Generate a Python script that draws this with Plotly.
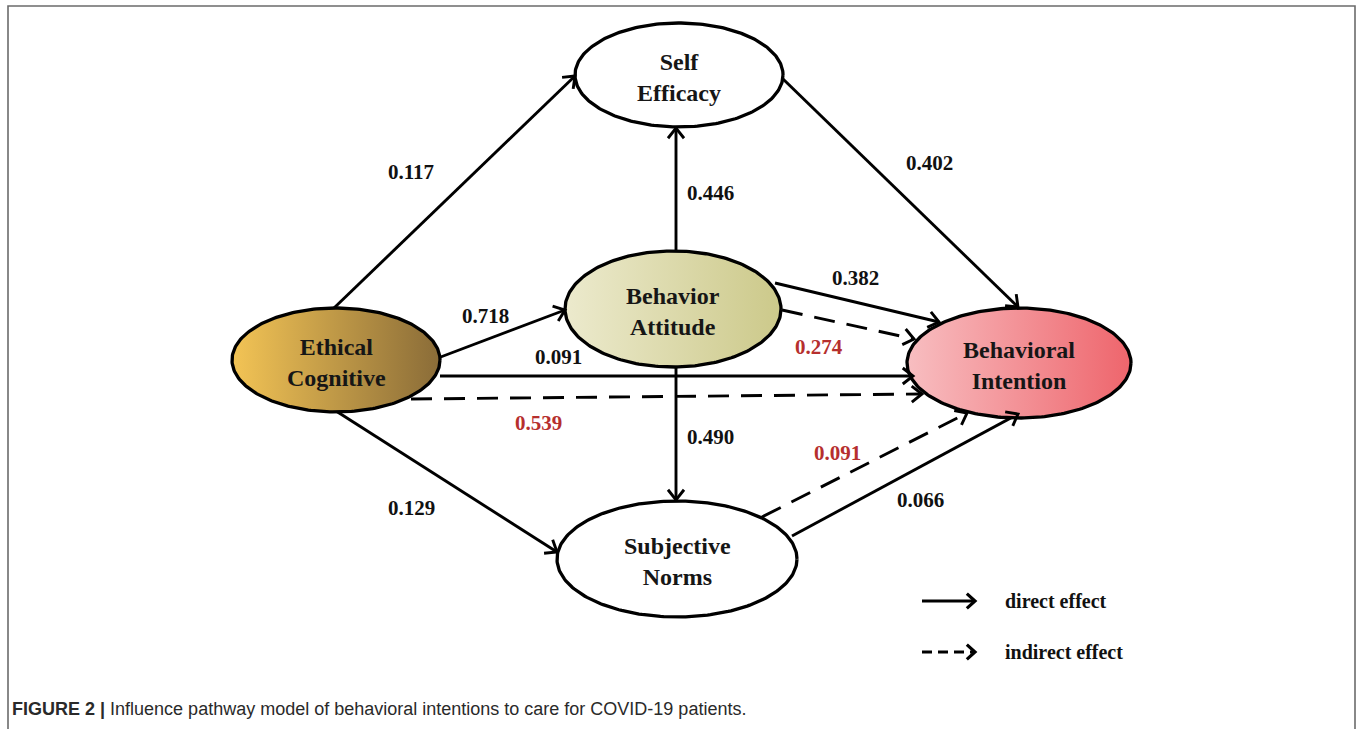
import numpy as np
import plotly.graph_objects as go

# ------------------------------------------------------------------ data
node_names = ["Ethical Cognitive", "Self Efficacy", "Behavior Attitude",
              "Subjective Norms", "Behavioral Intention"]
node_lines = [["Ethical", "Cognitive"], ["Self", "Efficacy"], ["Behavior", "Attitude"],
              ["Subjective", "Norms"], ["Behavioral", "Intention"]]

edge_source = ["Ethical Cognitive", "Ethical Cognitive", "Ethical Cognitive", "Ethical Cognitive",
               "Ethical Cognitive", "Behavior Attitude", "Behavior Attitude", "Behavior Attitude",
               "Behavior Attitude", "Self Efficacy", "Subjective Norms", "Subjective Norms"]
edge_target = ["Self Efficacy", "Behavior Attitude", "Behavioral Intention", "Behavioral Intention",
               "Subjective Norms", "Self Efficacy", "Subjective Norms", "Behavioral Intention",
               "Behavioral Intention", "Behavioral Intention", "Behavioral Intention",
               "Behavioral Intention"]
edge_coef = [0.117, 0.718, 0.091, 0.539, 0.129, 0.446, 0.490, 0.382, 0.274, 0.402, 0.091, 0.066]
edge_kind = ["direct", "direct", "direct", "indirect", "direct", "direct", "direct", "direct",
             "indirect", "direct", "indirect", "direct"]

legend_kinds = ["direct", "indirect"]
legend_labels = ["direct effect", "indirect effect"]

caption_head = "FIGURE 2 |"
caption_text = "Influence pathway model of behavioral intentions to care for COVID-19 patients."

# ------------------------------------------------------------------ layout geometry (pixels)
W, H = 1357, 729
node_center = {"Ethical Cognitive": (336, 360), "Self Efficacy": (679, 75),
               "Behavior Attitude": (673, 309), "Subjective Norms": (677, 559),
               "Behavioral Intention": (1019, 363)}
node_radius = {"Ethical Cognitive": (104, 52), "Self Efficacy": (104, 52),
               "Behavior Attitude": (108, 58), "Subjective Norms": (120, 58),
               "Behavioral Intention": (112, 55)}
node_fill = {"Ethical Cognitive": ("#F3C455", "#8A6C38"),
             "Self Efficacy": ("#FFFFFF", "#FFFFFF"),
             "Behavior Attitude": ("#ECEACD", "#CCC98A"),
             "Subjective Norms": ("#FFFFFF", "#FFFFFF"),
             "Behavioral Intention": ("#F8BEC1", "#EE656C")}

edge_path = [((334, 308), (575, 76)), ((438, 358), (565, 310)), ((440, 376), (913, 376)),
             ((411, 399), (922, 394)), ((336, 411), (557, 552)), ((676, 251), (676, 128)),
             ((676, 367), (676, 500)), ((775, 283), (939, 322)), ((782, 310), (914, 339)),
             ((782, 78), (1018, 307)), ((762, 517), (967, 413)), ((792, 536), (1018, 414))]
label_pos = [(411, 172), (485, 316), (558, 357), (538, 423), (411, 508), (710, 193),
             (710, 437), (855, 278), (819, 347), (929, 163), (837, 453), (920, 500)]
legend_y = [601, 652]

RED = "#B62F2E"
SERIF = "Liberation Serif, Times New Roman, serif"
LW = 2.9

fig = go.Figure()


def chevron(x0, y0, x1, y1, length=13, half_angle=38):
    d = np.array([x1 - x0, y1 - y0], dtype=float)
    d /= np.hypot(*d)
    a = np.deg2rad(half_angle)
    out = []
    for s in (1, -1):
        c, si = np.cos(s * a), np.sin(s * a)
        r = np.array([d[0] * c - d[1] * si, d[0] * si + d[1] * c])
        out.append((x1 - length * r[0], y1 - length * r[1]))
    return [out[0][0], x1, out[1][0]], [out[0][1], y1, out[1][1]]


# edges (lines)
for (p0, p1), kind in zip(edge_path, edge_kind):
    fig.add_trace(go.Scatter(x=[p0[0], p1[0]], y=[p0[1], p1[1]], mode="lines",
                             line=dict(color="black", width=LW,
                                       dash="solid" if kind == "direct" else "21px,12px"),
                             hoverinfo="skip", showlegend=False))

# nodes
t = np.linspace(0, 2 * np.pi, 240)
for name, lines in zip(node_names, node_lines):
    cx, cy = node_center[name]
    rx, ry = node_radius[name]
    c0, c1 = node_fill[name]
    fig.add_trace(go.Scatter(x=cx + rx * np.cos(t), y=cy + ry * np.sin(t), mode="lines",
                             fill="toself",
                             fillgradient=dict(type="horizontal",
                                               colorscale=[[0, c0], [1, c1]]),
                             line=dict(color="black", width=3.3),
                             hoverinfo="skip", showlegend=False))
    fig.add_annotation(x=cx, y=cy, xref="x", yref="y", showarrow=False, yshift=-2,
                       text="<br>".join(f"<b>{s}</b>" for s in lines),
                       font=dict(family=SERIF, size=24, color="#161616"), align="center")

# arrow heads
for (p0, p1) in edge_path:
    xs, ys = chevron(p0[0], p0[1], p1[0], p1[1])
    fig.add_trace(go.Scatter(x=xs, y=ys, mode="lines", line=dict(color="black", width=LW),
                             hoverinfo="skip", showlegend=False))

# coefficient labels
for coef, kind, (lx, ly) in zip(edge_coef, edge_kind, label_pos):
    fig.add_annotation(x=lx, y=ly, xref="x", yref="y", showarrow=False,
                       text=f"<b>{coef:.3f}</b>",
                       font=dict(family=SERIF, size=21, color="#111111" if kind == "direct" else RED))

# legend
for kind, label, ly in zip(legend_kinds, legend_labels, legend_y):
    fig.add_trace(go.Scatter(x=[922, 975], y=[ly, ly], mode="lines",
                             line=dict(color="black", width=3.2,
                                       dash="solid" if kind == "direct" else "10px,6px"),
                             hoverinfo="skip", showlegend=False))
    xs, ys = chevron(922, ly, 975, ly, length=11, half_angle=42)
    fig.add_trace(go.Scatter(x=xs, y=ys, mode="lines", line=dict(color="black", width=3.2),
                             hoverinfo="skip", showlegend=False))
    fig.add_annotation(x=1003, y=ly, xref="x", yref="y", xanchor="left", showarrow=False,
                       text=f"<b>{label}</b>", font=dict(family=SERIF, size=20, color="#111111"))

# frame
fig.add_shape(type="path", xref="x", yref="y",
              path=f"M 8,{H + 5} L 8,6 L 1355,6 L 1355,{H + 5}",
              line=dict(color="#6b6b6b", width=1.6))

# caption
fig.add_annotation(x=10, y=709, xref="x", yref="y", xanchor="left", showarrow=False,
                   text=f"<b>{caption_head}</b> {caption_text}",
                   font=dict(family="Liberation Sans, Arial, sans-serif",
                             size=18, color="#2a2a2a"))

fig.update_layout(width=W, height=H, margin=dict(l=0, r=0, t=0, b=0),
                  plot_bgcolor="white", paper_bgcolor="white")
fig.update_xaxes(range=[0, W], visible=False, fixedrange=True)
fig.update_yaxes(range=[H, 0], visible=False, fixedrange=True)

fig.write_html("out.html", config={"displayModeBar": False},
               post_script="document.body.style.margin='0';document.body.style.overflow='hidden';")
